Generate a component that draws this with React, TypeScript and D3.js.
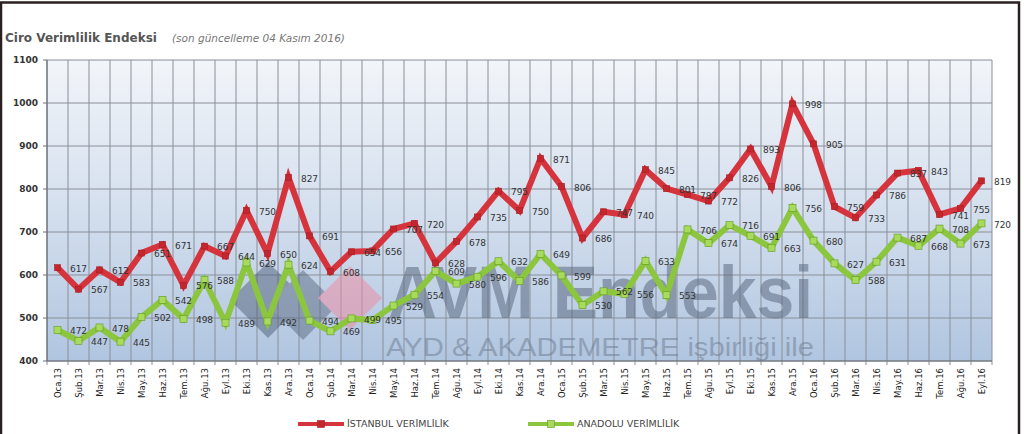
import React from "react";
import * as d3 from "d3";

const months = [
  "Oca.13","Şub.13","Mar.13","Nis.13","May.13","Haz.13","Tem.13","Ağu.13","Eyl.13","Eki.13","Kas.13","Ara.13",
  "Oca.14","Şub.14","Mar.14","Nis.14","May.14","Haz.14","Tem.14","Ağu.14","Eyl.14","Eki.14","Kas.14","Ara.14",
  "Oca.15","Şub.15","Mar.15","Nis.15","May.15","Haz.15","Tem.15","Ağu.15","Eyl.15","Eki.15","Kas.15","Ara.15",
  "Oca.16","Şub.16","Mar.16","Nis.16","May.16","Haz.16","Tem.16","Ağu.16","Eyl.16"
];

const istanbul = [
  617,567,612,583,651,671,576,667,644,750,650,827,
  691,608,654,656,707,720,628,678,735,795,750,871,
  806,686,747,740,845,801,787,772,826,893,806,998,
  905,759,733,786,837,843,741,755,819
];

const anadolu = [
  472,447,478,445,502,542,498,588,489,629,492,624,
  494,469,499,495,529,554,609,580,596,632,586,649,
  599,530,562,556,633,553,706,674,716,691,663,756,
  680,627,588,631,687,668,708,673,720
];

const yTicks = [400,500,600,700,800,900,1000,1100];

const seriesNames = ["İSTANBUL VERİMLİLİK", "ANADOLU VERİMLİLİK"];

const W = 1024, H = 434;
const M = { left: 47, right: 992, top: 60, bottom: 361 };

export default function App() {
  const x = d3.scaleBand<string>().domain(months).range([M.left, M.right]).padding(0);
  const y = d3.scaleLinear().domain([400, 1100]).range([M.bottom, M.top]);
  const cx = (m: string) => (x(m) as number) + x.bandwidth() / 2;
  const line = d3.line<number>().x((_, i) => cx(months[i])).y(d => y(d));
  const font = "'DejaVu Sans', Verdana, sans-serif";

  const series = [
    { vals: istanbul, stroke: "#d6343c", marker: "#c4262e", mstroke: "#a81d24", name: seriesNames[0], ms: 6 },
    { vals: anadolu, stroke: "#8cc63f", marker: "#a8da5c", mstroke: "#5f9a22", name: seriesNames[1], ms: 7 },
  ];

  return (
    <svg width={W} height={H} style={{ position: "absolute", left: 0, top: 0, background: "#fff" }}
      fontFamily={font}>
      <defs>
        <linearGradient id="bg" x1="0" y1="0" x2="0" y2="1">
          <stop offset="0" stopColor="#f2f5f9" />
          <stop offset="0.5" stopColor="#d4dfee" />
          <stop offset="1" stopColor="#b0c5e0" />
        </linearGradient>
      </defs>
      {/* frame */}
      <rect x={1} y={2.5} width={1018} height={440} fill="none" stroke="#2a2020" strokeWidth={2.5} />

      {/* title */}
      <text x={5} y={42} fontSize={12} fontWeight="bold" fill="#555">Ciro Verimlilik Endeksi</text>
      <text x={172} y={42} fontSize={10.5} fontStyle="italic" fill="#777">(son güncelleme 04 Kasım 2016)</text>

      {/* plot background */}
      <rect x={M.left} y={M.top} width={M.right - M.left} height={M.bottom - M.top} fill="url(#bg)" />

      {/* grid */}
      {yTicks.map(t => (
        <line key={"h" + t} x1={M.left} x2={M.right} y1={y(t)} y2={y(t)} stroke="#8a8f98" strokeWidth={1} />
      ))}
      {months.map(m => (
        <line key={"v" + m} x1={(x(m) as number)} x2={(x(m) as number)} y1={M.top} y2={M.bottom + 4}
          stroke="#8a8f98" strokeWidth={1} />
      ))}
      <line x1={M.right} x2={M.right} y1={M.top} y2={M.bottom + 4} stroke="#8a8f98" strokeWidth={1} />
      <line x1={M.left} x2={M.right} y1={M.bottom} y2={M.bottom} stroke="#6b7079" strokeWidth={1.2} />
      <line x1={M.left} x2={M.left} y1={M.top} y2={M.bottom} stroke="#6b7079" strokeWidth={1.2} />
      {yTicks.map(t => (
        <line key={"yt" + t} x1={M.left - 4} x2={M.left} y1={y(t)} y2={y(t)} stroke="#6b7079" />
      ))}

      {/* y labels */}
      {yTicks.map(t => (
        <text key={"yl" + t} x={38} y={y(t)} dy="0.35em" textAnchor="end" fontSize={9} fontWeight="bold" fill="#333">{t}</text>
      ))}

      {/* watermark */}
      <g opacity={0.5}>
        <path d="M230,300 L268,262 L306,300 L268,338 Z" fill="#4f5f78" />
        <path d="M268,305 L303,270 L338,305 L303,340 Z" fill="#5a6a82" />
        <path d="M318,298 L350,266 L382,298 L350,330 Z" fill="#f08aa0" />
      </g>
      <text x={388} y={318} fontSize={74} fontWeight="bold" fill="#5d6b80" opacity={0.55}
        textLength={425} lengthAdjust="spacingAndGlyphs" fontFamily="'Liberation Sans', Arial, sans-serif">AVM Endeksi</text>
      <text x={386} y={356} fontSize={25} fill="#6d7a8c" opacity={0.5}
        textLength={428} lengthAdjust="spacingAndGlyphs" fontFamily="'Liberation Sans', Arial, sans-serif">AYD &amp; AKADEMETRE işbirliği ile</text>

      {/* lines */}
      {series.map((s, si) => (
        <g key={"s" + si}>
          <path d={line(s.vals) as string} fill="none" stroke={s.stroke} strokeWidth={6} strokeLinejoin="miter" />
          {s.vals.map((v, i) => (
            <rect key={i} x={cx(months[i]) - s.ms / 2} y={y(v) - s.ms / 2} width={s.ms} height={s.ms}
              fill={s.marker} stroke={s.mstroke} strokeWidth={0.6} />
          ))}
        </g>
      ))}

      {/* data labels */}
      {series.map((s, si) => (
        <g key={"l" + si}>
          {s.vals.map((v, i) => (
            <text key={i} x={cx(months[i]) + 21} y={y(v) + 1} dy="0.35em" textAnchor="middle"
              fontSize={9} fill="#333">{v}</text>
          ))}
        </g>
      ))}

      {/* x labels */}
      {months.map(m => (
        <text key={"xl" + m} transform={`translate(${cx(m) + 3},${M.bottom + 7}) rotate(-90)`}
          textAnchor="end" fontSize={8.5} fill="#222">{m}</text>
      ))}

      {/* legend */}
      {[{ x: 298, s: series[0] }, { x: 528, s: series[1] }].map((l, i) => (
        <g key={"lg" + i}>
          <line x1={l.x} x2={l.x + 46} y1={424} y2={424} stroke={l.s.stroke} strokeWidth={4} />
          <rect x={l.x + 19.5} y={420.5} width={7} height={7} fill={l.s.marker} stroke={l.s.mstroke} strokeWidth={0.6} />
          <text x={l.x + 49} y={424} dy="0.35em" fontSize={9.5} fill="#444">{l.s.name}</text>
        </g>
      ))}
    </svg>
  );
}
